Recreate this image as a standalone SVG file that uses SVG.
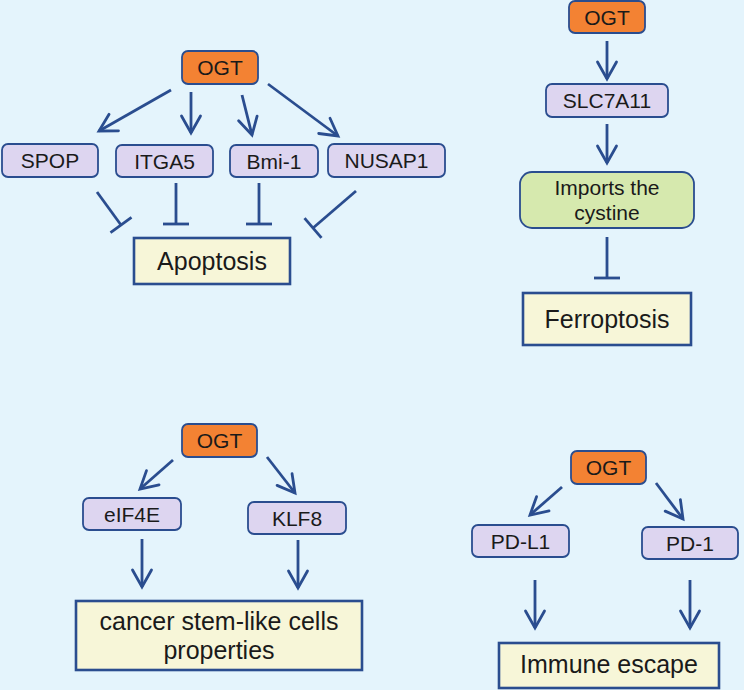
<svg xmlns="http://www.w3.org/2000/svg" width="744" height="690" viewBox="0 0 744 690">
<defs>
<marker id="arr" markerUnits="userSpaceOnUse" markerWidth="40" markerHeight="40" viewBox="-20 -20 40 40" refX="0" refY="0" orient="auto">
<path d="M-17,-9.5 L0,0 L-17,9.5" fill="none" stroke="#2a4d8f" stroke-width="2.8" stroke-linecap="round" stroke-linejoin="miter"/>
</marker>
<marker id="inh" markerUnits="userSpaceOnUse" markerWidth="40" markerHeight="40" viewBox="-20 -20 40 40" refX="0" refY="0" orient="auto">
<path d="M0,-13 L0,13" fill="none" stroke="#2a4d8f" stroke-width="2.8"/>
</marker>
</defs>
<style>
.ogt{fill:#f38233;stroke:#2a4d8f;stroke-width:1.8}
.mid{fill:#ddd5f0;stroke:#2a4d8f;stroke-width:1.8}
.grn{fill:#d6e9ae;stroke:#2a4d8f;stroke-width:1.8}
.out{fill:#f7f6d8;stroke:#2a4d8f;stroke-width:2.6}
text{font-family:"Liberation Sans",Arial,sans-serif;fill:#1a1a1a;text-anchor:middle}
.t{font-size:21px}
.o{font-size:25px}
.a{fill:none;stroke:#2a4d8f;stroke-width:2.8;marker-end:url(#arr)}
.i{fill:none;stroke:#2a4d8f;stroke-width:2.8;marker-end:url(#inh)}
</style>
<rect width="744" height="690" fill="#e4f4fc"/>
<g id="connectors">
<line class="a" x1="171" y1="90" x2="99" y2="131"/>
<line class="a" x1="191" y1="92" x2="191" y2="133"/>
<line class="a" x1="242" y1="95" x2="252" y2="135"/>
<line class="a" x1="268" y1="84" x2="338" y2="136"/>
<line class="i" x1="97" y1="192" x2="121" y2="225"/>
<line class="i" x1="176" y1="183" x2="176" y2="224"/>
<line class="i" x1="259" y1="183" x2="259" y2="224"/>
<line class="i" x1="356" y1="191" x2="313" y2="228"/>
<line class="a" x1="607" y1="41" x2="607" y2="79"/>
<line class="a" x1="607" y1="124" x2="607" y2="163"/>
<line class="i" x1="607" y1="237" x2="607" y2="278"/>
<line class="a" x1="173" y1="460" x2="140" y2="489"/>
<line class="a" x1="267" y1="457" x2="295" y2="493"/>
<line class="a" x1="142" y1="539" x2="142" y2="587"/>
<line class="a" x1="298" y1="540" x2="298" y2="588"/>
<line class="a" x1="562" y1="487" x2="530" y2="515"/>
<line class="a" x1="656" y1="483" x2="683" y2="519"/>
<line class="a" x1="535" y1="580" x2="535" y2="628"/>
<line class="a" x1="690" y1="580" x2="690" y2="628"/>
</g>
<g id="ogt1"><rect class="ogt" x="182" y="51" width="76" height="33" rx="6"/><text class="t" x="220" y="75">OGT</text></g>
<g id="spop"><rect class="mid" x="2" y="144" width="96" height="33" rx="6"/><text class="t" x="50" y="168">SPOP</text></g>
<g id="itga5"><rect class="mid" x="116" y="145" width="97" height="32" rx="6"/><text class="t" x="164.5" y="168.5">ITGA5</text></g>
<g id="bmi1"><rect class="mid" x="230" y="145" width="88" height="32" rx="6"/><text class="t" x="274" y="168.5">Bmi-1</text></g>
<g id="nusap1"><rect class="mid" x="328" y="144" width="117" height="33" rx="6"/><text class="t" x="386.5" y="168">NUSAP1</text></g>
<g id="apoptosis"><rect class="out" x="134" y="238" width="156" height="46"/><text class="o" x="212" y="270">Apoptosis</text></g>
<g id="ogt2"><rect class="ogt" x="569" y="1" width="76" height="32" rx="6"/><text class="t" x="607" y="24.5">OGT</text></g>
<g id="slc7a11"><rect class="mid" x="546" y="84" width="122" height="33" rx="6"/><text class="t" x="607" y="108">SLC7A11</text></g>
<g id="imports"><rect class="grn" x="520" y="172" width="174" height="56" rx="12"/><text class="t" x="607" y="195">Imports the</text><text class="t" x="607" y="220">cystine</text></g>
<g id="ferroptosis"><rect class="out" x="523" y="293" width="168" height="52"/><text class="o" x="607" y="328">Ferroptosis</text></g>
<g id="ogt3"><rect class="ogt" x="182" y="424" width="75" height="33" rx="6"/><text class="t" x="219.5" y="448">OGT</text></g>
<g id="eif4e"><rect class="mid" x="83" y="498" width="98" height="32" rx="6"/><text class="t" x="132" y="521.5">eIF4E</text></g>
<g id="klf8"><rect class="mid" x="248" y="502" width="98" height="32" rx="6"/><text class="t" x="297" y="525.5">KLF8</text></g>
<g id="cancer"><rect class="out" x="76" y="601" width="286" height="69"/><text class="o" x="219" y="630">cancer stem-like cells</text><text class="o" x="219" y="659">properties</text></g>
<g id="ogt4"><rect class="ogt" x="571" y="451" width="75" height="33" rx="6"/><text class="t" x="608.5" y="475">OGT</text></g>
<g id="pdl1"><rect class="mid" x="472" y="525" width="97" height="32" rx="6"/><text class="t" x="520.5" y="548.5">PD-L1</text></g>
<g id="pd1"><rect class="mid" x="642" y="527" width="96" height="32" rx="6"/><text class="t" x="690" y="550.5">PD-1</text></g>
<g id="immune"><rect class="out" x="499" y="643" width="220" height="45"/><text class="o" x="609" y="673">Immune escape</text></g>
</svg>
